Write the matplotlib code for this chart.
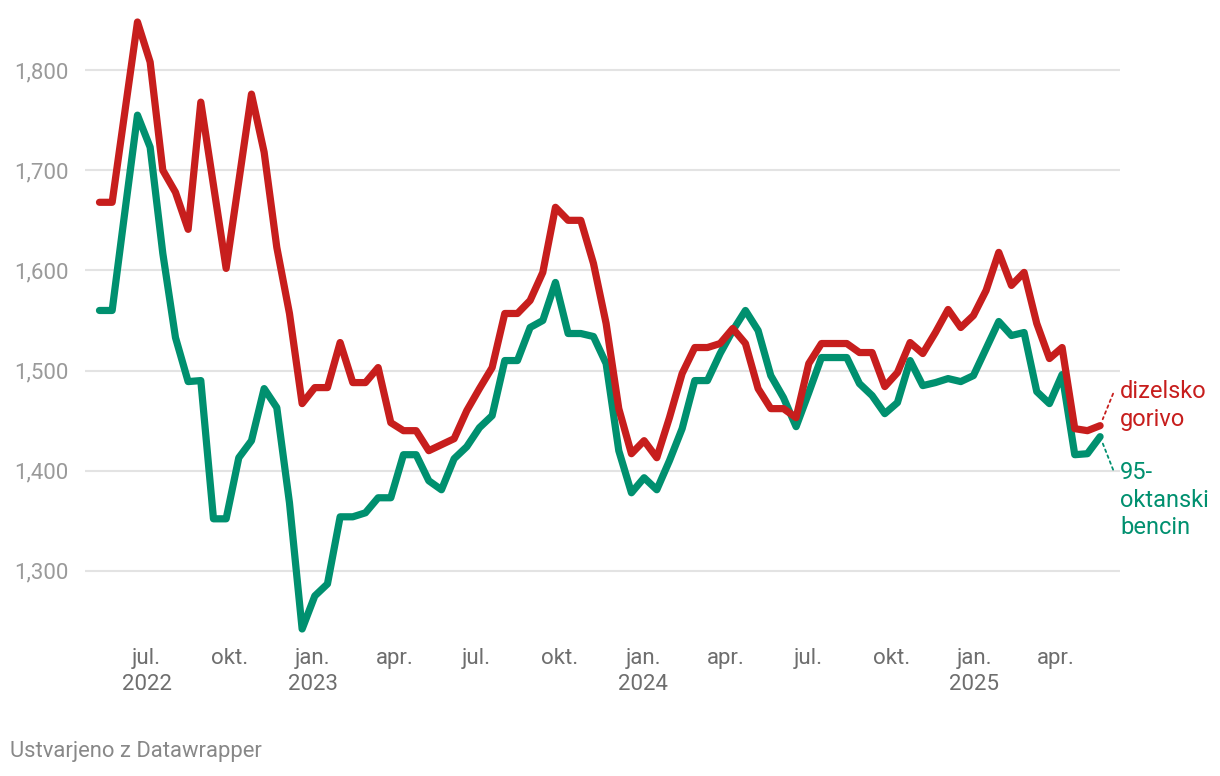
import numpy as np
import pandas as pd
import matplotlib
matplotlib.use("Agg")
import matplotlib.pyplot as plt
import matplotlib.dates as mdates

plt.rcParams['font.family'] = ['Roboto', 'DejaVu Sans']

# fuel prices every 14 days, eur per litre (x1000 on the axis labels)
dates = pd.date_range('2022-05-10', periods=80, freq='14D')

diesel = [1668, 1668, 1758, 1848, 1808, 1700, 1678, 1641, 1768, 1685,
          1602, 1689, 1776, 1718, 1623, 1557, 1467, 1483, 1483, 1528,
          1488, 1488, 1503, 1448, 1440, 1440, 1420, 1426, 1432, 1460,
          1482, 1503, 1557, 1557, 1570, 1598, 1663, 1650, 1650, 1607,
          1547, 1462, 1417, 1430, 1413, 1453, 1497, 1523, 1523, 1527,
          1542, 1527, 1482, 1462, 1462, 1453, 1507, 1527, 1527, 1527,
          1518, 1518, 1484, 1498, 1528, 1517, 1538, 1561, 1543, 1555,
          1580, 1618, 1585, 1598, 1547, 1512, 1523, 1442, 1440, 1445]

petrol = [1560, 1560, 1658, 1755, 1723, 1617, 1533, 1489, 1490, 1352,
          1352, 1413, 1430, 1482, 1463, 1368, 1242, 1275, 1287, 1354,
          1354, 1358, 1373, 1373, 1416, 1416, 1390, 1381, 1412, 1424,
          1443, 1455, 1510, 1510, 1543, 1550, 1588, 1537, 1537, 1534,
          1507, 1420, 1378, 1393, 1381, 1410, 1442, 1490, 1490, 1517,
          1540, 1560, 1540, 1495, 1473, 1444, 1478, 1513, 1513, 1513,
          1487, 1475, 1457, 1468, 1510, 1485, 1488, 1492, 1489, 1495,
          1522, 1549, 1535, 1538, 1479, 1467, 1496, 1416, 1417, 1434]

y_ticks = [1300, 1400, 1500, 1600, 1700, 1800]
y_labels = ['1,300', '1,400', '1,500', '1,600', '1,700', '1,800']

x_ticks = pd.to_datetime(['2022-07-01', '2022-10-01', '2023-01-01', '2023-04-01',
                          '2023-07-01', '2023-10-01', '2024-01-01', '2024-04-01',
                          '2024-07-01', '2024-10-01', '2025-01-01', '2025-04-01'])
x_labels = ['jul.\n2022', 'okt.', 'jan.\n2023', 'apr.', 'jul.', 'okt.',
            'jan.\n2024', 'apr.', 'jul.', 'okt.', 'jan.\n2025', 'apr.']

red = '#c71e1d'
green = '#00906f'

fig = plt.figure(figsize=(12.2, 7.76), dpi=100)
ax = fig.add_axes([85 / 1220, 1 - 640 / 776, (1120 - 85) / 1220, 625 / 776])

ax.plot(dates, petrol, color=green, lw=5.2, solid_joinstyle='round',
        solid_capstyle='round', zorder=3)
ax.plot(dates, diesel, color=red, lw=5.2, solid_joinstyle='round',
        solid_capstyle='round', zorder=4)

ax.set_ylim(1231, 1855)
ax.set_xlim(pd.Timestamp('2022-04-24'), pd.Timestamp('2025-06-11'))

for v in y_ticks:
    ax.axhline(v, color='#e3e3e3', lw=1.5, zorder=1)

ax.set_yticks(y_ticks)
ax.set_yticklabels(y_labels)
ax.set_xticks(x_ticks)
ax.set_xticklabels(x_labels, linespacing=1.3)
ax.tick_params(axis='y', length=0, pad=12, labelsize=16, labelcolor='#9a9a9a')
ax.tick_params(axis='x', length=0, pad=6, labelsize=16, labelcolor='#6e6e6e')
for sp in ax.spines.values():
    sp.set_visible(False)

# line labels with dotted connectors
ax.annotate('', xy=(dates[-1], diesel[-1]), xytext=(13, 32),
            textcoords='offset pixels',
            arrowprops=dict(arrowstyle='-', color=red, lw=1.3, ls=(0, (1.5, 2)),
                            shrinkA=0, shrinkB=5))
ax.annotate('dizelsko\ngorivo', xy=(dates[-1], diesel[-1]), xytext=(20, 46),
            textcoords='offset pixels', ha='left', va='top', color=red,
            fontsize=17, linespacing=1.27, annotation_clip=False)

ax.annotate('', xy=(dates[-1], petrol[-1]), xytext=(13, -33),
            textcoords='offset pixels',
            arrowprops=dict(arrowstyle='-', color=green, lw=1.3, ls=(0, (1.5, 2)),
                            shrinkA=0, shrinkB=5))
ax.annotate('95-\noktanski\nbencin', xy=(dates[-1], petrol[-1]), xytext=(20, -24),
            textcoords='offset pixels', ha='left', va='top', color=green,
            fontsize=17, linespacing=1.27, annotation_clip=False)

fig.text(10 / 1220, 1 - 752 / 776, 'Ustvarjeno z Datawrapper', fontsize=15.8,
         color='#888888', ha='left', va='center')

fig.savefig('out.png', dpi=100)
